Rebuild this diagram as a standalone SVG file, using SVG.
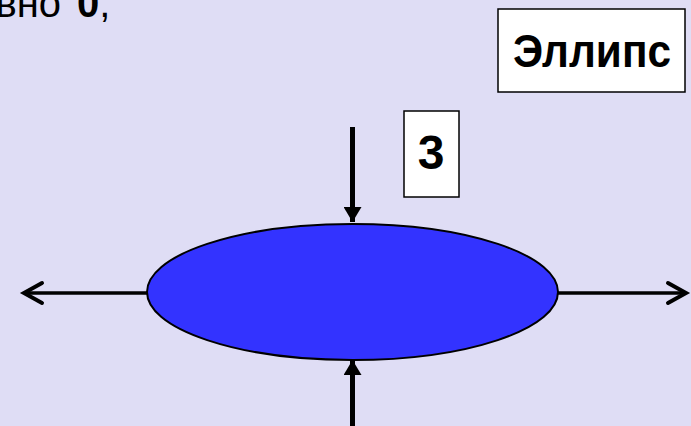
<svg xmlns="http://www.w3.org/2000/svg" width="691" height="426" viewBox="0 0 691 426">
<style>
.t{font-family:"Liberation Sans",Arial,sans-serif;fill:#000}
.b{font-weight:bold}
.box{fill:#fff;stroke:#000;stroke-width:1.5}
.thick{stroke:#000;stroke-width:5;fill:none}
.thin{stroke:#000;stroke-width:3.5;fill:none}
.chev{stroke:#000;stroke-width:4;fill:none;stroke-linecap:round;stroke-linejoin:miter}
</style>
<defs>
<marker id="solid" markerWidth="18" markerHeight="18" refX="15" refY="9" orient="auto" markerUnits="userSpaceOnUse" viewBox="0 0 18 18">
<path d="M0,0 L15,9 L0,18 Z" fill="#000"/>
</marker>
</defs>
<rect width="691" height="426" fill="#DFDDF5"/>
<text class="t" x="-49" y="17" font-size="40">равно <tspan class="b" x="77">0</tspan>,</text>
<g id="ellipse">
<ellipse cx="352.5" cy="292" rx="205.5" ry="68" fill="#3333FF" stroke="#000" stroke-width="2"/>
</g>
<g id="label-ellipse">
<rect class="box" x="498" y="9" width="187" height="83"/>
<text class="t b" x="592" y="67" font-size="46" text-anchor="middle" textLength="158" lengthAdjust="spacingAndGlyphs">Эллипс</text>
</g>
<g id="label-3">
<rect class="box" x="404" y="111" width="55" height="86"/>
<text class="t b" x="431" y="169" font-size="48" text-anchor="middle">3</text>
</g>
<g id="connectors">
<line class="thick" x1="352.5" y1="127" x2="352.5" y2="222" marker-end="url(#solid)"/>
<line class="thick" x1="352.5" y1="426" x2="352.5" y2="360" marker-end="url(#solid)"/>
<line class="thin" x1="147" y1="293" x2="25" y2="293"/>
<polyline class="chev" points="42,283 24,293 42,303"/>
<line class="thin" x1="558" y1="293" x2="686" y2="293"/>
<polyline class="chev" points="668,283 686,293 668,303"/>
</g>
</svg>
